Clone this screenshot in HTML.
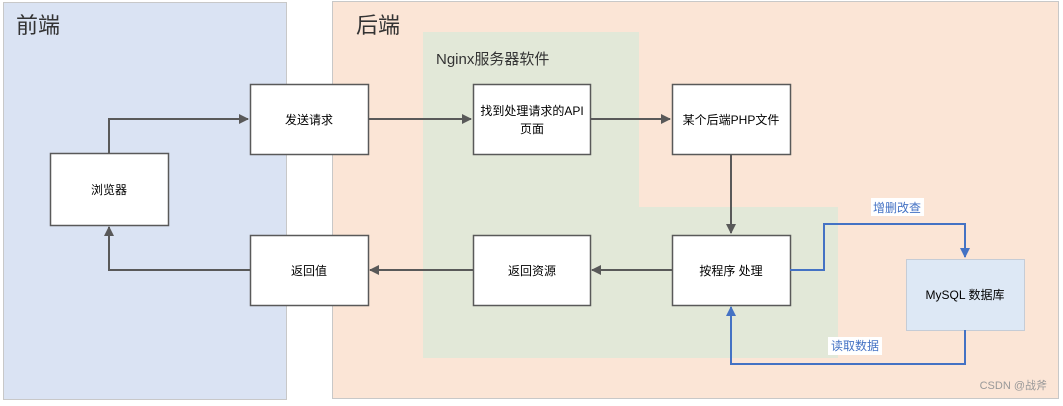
<!DOCTYPE html>
<html><head><meta charset="utf-8"><style>
body{margin:0;width:1063px;height:401px;overflow:hidden;background:#fff;font-family:"Liberation Sans","Noto Sans CJK SC",sans-serif}
svg text{font-family:"Liberation Sans","Noto Sans CJK SC",sans-serif}
</style></head><body>
<svg width="1063" height="401" xmlns="http://www.w3.org/2000/svg">
<defs>
<marker id="ag" markerWidth="10" markerHeight="10" refX="9" refY="5" orient="auto" markerUnits="userSpaceOnUse"><path d="M0,0 L10,5 L0,10 z" fill="#595959"/></marker>
<marker id="ab" markerWidth="10" markerHeight="10" refX="9" refY="5" orient="auto" markerUnits="userSpaceOnUse"><path d="M0,0 L10,5 L0,10 z" fill="#4472c4"/></marker>
</defs>
<rect x="3.5" y="2.5" width="283" height="397" fill="#dae3f3" stroke="#c8c8c8"/>
<rect x="332.5" y="1.5" width="726" height="397" fill="#fbe5d6" stroke="#c8c8c8"/>
<polygon points="423,32 639,32 639,207 838,207 838,358 423,358" fill="#e2e8d8"/>
<text x="16" y="33" font-size="22" fill="#333">前端</text>
<text x="356" y="33" font-size="22" fill="#333">后端</text>
<text x="436" y="64" font-size="15" fill="#333">Nginx服务器软件</text>
<g stroke="#595959" stroke-width="1.5" fill="#fff">
<rect x="50.5" y="153.5" width="118" height="72"/>
<rect x="250.5" y="84.5" width="118" height="70"/>
<rect x="473.5" y="84.5" width="117" height="70"/>
<rect x="672.5" y="84.5" width="118" height="70"/>
<rect x="672.5" y="235.5" width="118" height="70"/>
<rect x="473.5" y="235.5" width="117" height="70"/>
<rect x="250.5" y="235.5" width="118" height="70"/>
</g>
<rect x="906.5" y="259.5" width="118" height="71" fill="#dde8f5" stroke="#c5ccd6"/>
<g font-size="12" fill="#000" text-anchor="middle">
<text x="109" y="194">浏览器</text>
<text x="309" y="124">发送请求</text>
<text x="532" y="115">找到处理请求的API</text>
<text x="532" y="133">页面</text>
<text x="731" y="124">某个后端PHP文件</text>
<text x="731" y="275">按程序 处理</text>
<text x="532" y="275">返回资源</text>
<text x="309" y="275">返回值</text>
<text x="965" y="299">MySQL 数据库</text>
</g>
<g stroke="#595959" stroke-width="2" fill="none">
<polyline points="109,153 109,119 248,119" marker-end="url(#ag)"/>
<line x1="368" y1="119" x2="471" y2="119" marker-end="url(#ag)"/>
<line x1="590" y1="119" x2="670" y2="119" marker-end="url(#ag)"/>
<line x1="731" y1="154" x2="731" y2="233" marker-end="url(#ag)"/>
<line x1="672" y1="270" x2="592" y2="270" marker-end="url(#ag)"/>
<line x1="473" y1="270" x2="370" y2="270" marker-end="url(#ag)"/>
<polyline points="250,270 109,270 109,227" marker-end="url(#ag)"/>
</g>
<g stroke="#4472c4" stroke-width="2" fill="none">
<polyline points="790,270 824,270 824,224 965,224 965,257" marker-end="url(#ab)"/>
<polyline points="965,330 965,364 731,364 731,307" marker-end="url(#ab)"/>
</g>
<rect x="871" y="198" width="53" height="18" fill="#fff"/>
<text x="897" y="212" font-size="12" fill="#4472c4" text-anchor="middle">增删改查</text>
<rect x="828" y="337" width="54" height="18" fill="#fff"/>
<text x="855" y="350" font-size="12" fill="#4472c4" text-anchor="middle">读取数据</text>
<text x="1047" y="389" font-size="11" fill="#999" text-anchor="end">CSDN @战斧</text>
</svg>
</body></html>
